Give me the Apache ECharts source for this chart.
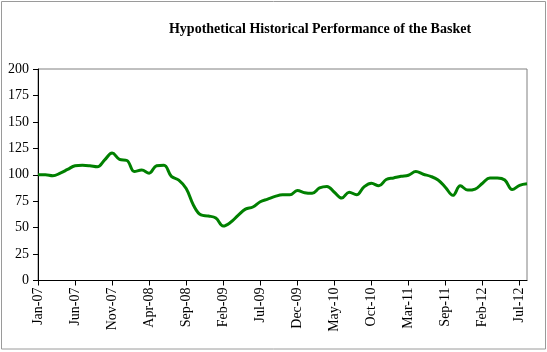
<!DOCTYPE html>
<html>
<head>
<meta charset="utf-8">
<script src="https://cdn.jsdelivr.net/npm/echarts@6/dist/echarts.min.js"></script>
<style>
  html, body { margin: 0; padding: 0; background: #fff; }
  #chart { width: 547px; height: 352px; }
</style>
</head>
<body>
<div id="chart"></div>
<script>
// monthly index 0 = Jan-07 ... 66
const tickLabels = ['Jan-07', 'Jun-07', 'Nov-07', 'Apr-08', 'Sep-08', 'Feb-09', 'Jul-09',
    'Dec-09', 'May-10', 'Oct-10', 'Mar-11', 'Sep-11', 'Feb-12', 'Jul-12'];

const basket = [
    100, 100, 99, 101.5, 105, 108.5, 109, 108.5, 107.5, 114,
    120.5, 114.5, 113.5, 103, 104.5, 101.5, 108.5, 109, 98.5, 95,
    87, 71, 62, 61, 59, 51.5, 55, 61.5, 67.5, 69.5,
    74.5, 77, 79.5, 81, 81, 85, 83, 82.5, 87.5, 89,
    83.5, 78, 83.5, 81, 88.5, 92, 89.5, 95.5, 97, 98.5,
    99.5, 103, 100.5, 98.5, 95, 88, 80.5, 89.5, 85.5, 86.5,
    92, 97, 97, 95, 86, 90, 91.5
];

const yTicks = [0, 25, 50, 75, 100, 125, 150, 175, 200];

let chart = echarts.init(document.getElementById('chart'));
chart.setOption({
    animation: false,
    graphic: [{
        type: 'rect',
        shape: {x: 1.5, y: 1.5, width: 544, height: 347.5},
        style: {fill: 'none', stroke: '#9a9a9a', lineWidth: 1}
    }],
    title: {
        text: 'Hypothetical Historical Performance of the Basket',
        left: 315,
        top: 17,
        textAlign: 'center',
        textStyle: {
            fontFamily: 'Liberation Serif',
            fontSize: 14,
            fontWeight: 'bold',
            color: '#000'
        }
    },
    grid: {
        left: 38,
        right: 20,
        top: 69,
        bottom: 71.5,
        show: true,
        borderColor: '#808080',
        borderWidth: 1
    },
    xAxis: {
        type: 'value',
        min: 0,
        max: 66,
        interval: 5,
        splitLine: {show: false},
        axisLine: {show: true, lineStyle: {color: '#000'}},
        axisTick: {show: true, length: 5, lineStyle: {color: '#000'}},
        axisLabel: {
            rotate: 90,
            margin: 7,
            fontFamily: 'Liberation Serif',
            fontSize: 14,
            color: '#000',
            showMaxLabel: false,
            formatter: function (v) {
                return tickLabels[v / 5] || '';
            }
        }
    },
    yAxis: {
        type: 'value',
        min: yTicks[0],
        max: yTicks[yTicks.length - 1],
        interval: 25,
        splitLine: {show: false},
        axisLine: {show: true, lineStyle: {color: '#000'}},
        axisTick: {show: true, length: 5, lineStyle: {color: '#000'}},
        axisLabel: {
            margin: 9,
            fontFamily: 'Liberation Serif',
            fontSize: 14,
            color: '#000'
        }
    },
    series: [{
        type: 'line',
        data: basket.map((v, i) => [i, v]),
        smooth: 0.4,
        showSymbol: false,
        clip: true,
        lineStyle: {color: '#008000', width: 3}
    }]
});
</script>
</body>
</html>
